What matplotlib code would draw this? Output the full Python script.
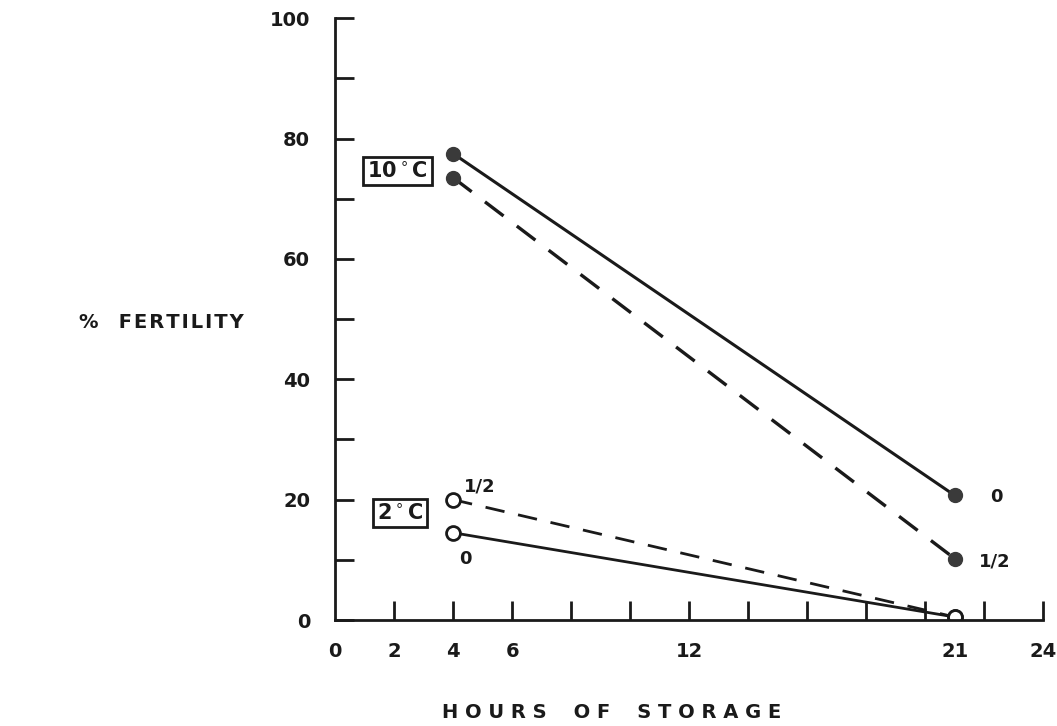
import matplotlib.pyplot as plt

# hours of storage
hours = [4, 21]

# % fertility, 10 C
warm_0 = [77.5, 20.7]
warm_half = [73.5, 10.2]
# % fertility, 2 C
cold_0 = [14.5, 0.5]
cold_half = [20.0, 0.5]

x_label_ticks = [0, 2, 4, 6, 12, 21, 24]
x_minor_ticks = [2, 4, 6, 8, 10, 12, 14, 16, 18, 20, 22, 24]
y_ticks = [0, 20, 40, 60, 80, 100]
y_minor_ticks = [10, 30, 50, 70, 90]

ink = '#1a1a1a'
dot = '#3a3a3a'

fig = plt.figure(figsize=(10.57, 7.26), dpi=100)
ax = fig.add_axes([0.317, 0.146, 0.670, 0.829])

ax.plot(hours, warm_0, '-', color=ink, lw=2.2, marker='o', ms=10,
        mfc=dot, mec=dot)
ax.plot(hours, warm_half, '--', color=ink, lw=2.4, dashes=(7, 5), marker='o', ms=10,
        mfc=dot, mec=dot)
ax.plot(hours, cold_0, '-', color=ink, lw=2.0, marker='o', ms=10,
        mfc='white', mec=ink, mew=2)
ax.plot(hours, cold_half, '--', color=ink, lw=2.0, dashes=(7, 5), marker='o', ms=10,
        mfc='white', mec=ink, mew=2)

ax.set_xlim(0, 24)
ax.set_ylim(0, 100)
for s in ['top', 'right']:
    ax.spines[s].set_visible(False)
for s in ['left', 'bottom']:
    ax.spines[s].set_linewidth(2)
    ax.spines[s].set_color(ink)

ax.xaxis.remove_overlapping_locs = False
ax.set_xticks(x_label_ticks)
ax.set_xticklabels([str(v) for v in x_label_ticks], fontsize=14, fontweight='bold')
ax.set_xticks(x_minor_ticks, minor=True)
ax.tick_params(axis='x', which='major', length=0, pad=16)
ax.tick_params(axis='x', which='minor', direction='in', length=14, width=2, color=ink)

ax.set_yticks(y_ticks)
ax.set_yticklabels([str(v) for v in y_ticks], fontsize=14, fontweight='bold')
ax.set_yticks(y_minor_ticks, minor=True)
ax.tick_params(axis='y', which='both', direction='in', length=14, width=2, color=ink, pad=18)

for lbl in ax.get_xticklabels() + ax.get_yticklabels():
    lbl.set_color(ink)

box = dict(boxstyle='square,pad=0.2', fc='white', ec=ink, lw=2)
ax.text(2.1, 74.6, '10$^\\circ$C', ha='center', va='center', fontsize=15,
        fontweight='bold', color=ink, bbox=box)
ax.text(2.2, 17.8, '2$^\\circ$C', ha='center', va='center', fontsize=15,
        fontweight='bold', color=ink, bbox=box)

ax.text(4.9, 22.1, '1/2', ha='center', va='center', fontsize=13, fontweight='bold', color=ink)
ax.text(4.4, 10.1, '0', ha='center', va='center', fontsize=13, fontweight='bold', color=ink)
ax.text(22.4, 20.4, '0', ha='center', va='center', fontsize=13, fontweight='bold', color=ink)
ax.text(22.35, 9.8, '1/2', ha='center', va='center', fontsize=13, fontweight='bold', color=ink)

hs = '\u200a'
fig.text(161 / 1057, 1 - 323 / 726, '%   ' + hs.join('FERTILITY'), ha='center', va='center',
         fontsize=14, fontweight='bold', color=ink)
fig.text(612 / 1057, 1 - 713 / 726, 'H O U R S    O F    S T O R A G E', ha='center',
         va='center', fontsize=14, fontweight='bold', color=ink)

fig.savefig('out.png', dpi=100)
